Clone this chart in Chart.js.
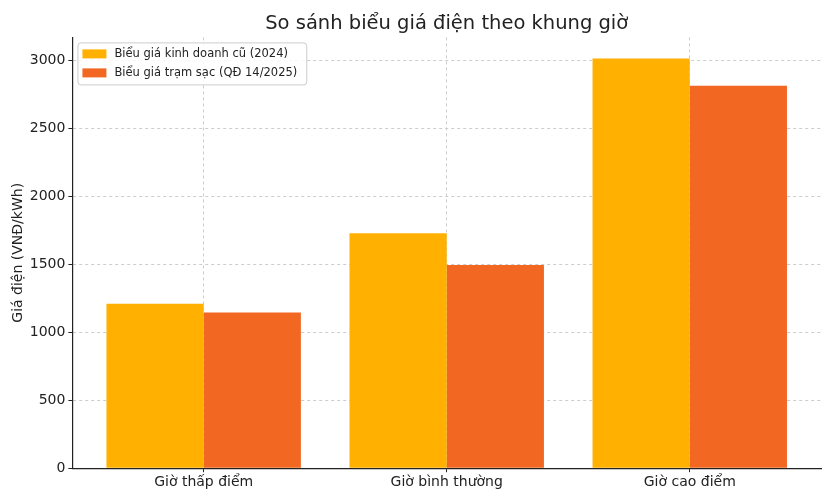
<!DOCTYPE html>
<html>
<head>
<meta charset="utf-8">
<script src="https://cdn.jsdelivr.net/npm/chart.js@4.4.1/dist/chart.umd.min.js"></script>
<style>
  html, body { margin: 0; padding: 0; background: #fff; }
  #wrap { width: 833px; height: 500px; }
</style>
</head>
<body>
<div id="wrap"><canvas id="mycanvas" width="833" height="500"></canvas></div>
<script>
// data
var categories = ["Giờ thấp điểm", "Giờ bình thường", "Giờ cao điểm"];
var oldPrices = [1210, 1728, 3015];
var stationPrices = [1145, 1495, 2814];
var seriesNames = ["Biểu giá kinh doanh cũ (2024)", "Biểu giá trạm sạc (QĐ 14/2025)"];
var yTicks = [0, 500, 1000, 1500, 2000, 2500, 3000];

var FONT = "'DejaVu Sans', sans-serif";

function toPoints(values) {
	return values.map(function(v, i) { return { x: i, y: v }; });
}

// legend drawn inside the plot, top-left, like the original
var insideLegend = {
	id: "insideLegend",
	afterDraw: function(chart) {
		var ctx = chart.ctx;
		var area = chart.chartArea;
		var x = area.left + 5, y = area.top + 5;
		ctx.save();
		ctx.font = "11.5px " + FONT;
		var w = 0;
		chart.data.datasets.forEach(function(ds) {
			w = Math.max(w, ctx.measureText(ds.label).width);
		});
		var boxW = w + 46, boxH = 42;
		ctx.fillStyle = "rgba(255,255,255,0.85)";
		ctx.strokeStyle = "#cccccc";
		ctx.lineWidth = 1;
		ctx.beginPath();
		ctx.roundRect(x + 0.5, y + 0.5, boxW, boxH, 3);
		ctx.fill();
		ctx.stroke();
		chart.data.datasets.forEach(function(ds, i) {
			var ly = y + 12 + i * 19;
			ctx.fillStyle = ds.backgroundColor;
			ctx.fillRect(x + 5, ly - 5, 24, 9);
			ctx.fillStyle = "#222";
			ctx.textBaseline = "middle";
			ctx.fillText(ds.label, x + 37, ly);
		});
		ctx.restore();
	}
};

var ctx = document.getElementById("mycanvas");

var chartdata = {
	datasets: [
		{
			label: seriesNames[0],
			backgroundColor: "#FFB000",
			data: toPoints(oldPrices),
			categoryPercentage: 0.8,
			barPercentage: 1.0
		},
		{
			label: seriesNames[1],
			backgroundColor: "#F26722",
			data: toPoints(stationPrices),
			categoryPercentage: 0.8,
			barPercentage: 1.0
		}
	]
};

var BarGraph = new Chart(ctx, {
	type: "bar",
	data: chartdata,
	plugins: [insideLegend],
	options: {
		responsive: false,
		animation: false,
		devicePixelRatio: 1,
		layout: { padding: { top: 0, right: 12, left: 0, bottom: 7 } },
		plugins: {
			legend: { display: false },
			tooltip: { enabled: false },
			title: {
				display: true,
				fullSize: false,
				text: "So sánh biểu giá điện theo khung giờ",
				color: "#222",
				font: { family: FONT, size: 19.5, weight: "normal" },
				padding: { top: 12, bottom: 2 }
			}
		},
		scales: {
			x: {
				type: "linear",
				min: -0.54,
				max: 2.54,
				offset: false,
				afterBuildTicks: function(axis) {
					axis.ticks = categories.map(function(c, i) { return { value: i }; });
				},
				grid: {
					offset: false,
					color: "#cccccc",
					tickColor: "#222",
					tickLength: 4
				},
				border: { display: true, color: "#222", width: 1.2, dash: [3, 3] },
				ticks: {
					color: "#222",
					font: { family: FONT, size: 14 },
					padding: 2,
					maxRotation: 0,
					callback: function(value) { return categories[value]; }
				}
			},
			y: {
				min: 0,
				max: 3170,
				afterBuildTicks: function(axis) {
					axis.ticks = yTicks.map(function(v) { return { value: v }; });
				},
				grid: {
					color: "#cccccc",
					tickColor: "#222",
					tickLength: 4
				},
				border: { display: true, color: "#222", width: 1.2, dash: [3, 3] },
				ticks: {
					color: "#222",
					font: { family: FONT, size: 14 },
					padding: 3,
					callback: function(value) { return String(value); }
				},
				title: {
					display: true,
					text: "Giá điện (VNĐ/kWh)",
					color: "#222",
					font: { family: FONT, size: 14 },
					padding: { top: 10, bottom: 0 }
				}
			}
		}
	}
});
</script>
</body>
</html>
